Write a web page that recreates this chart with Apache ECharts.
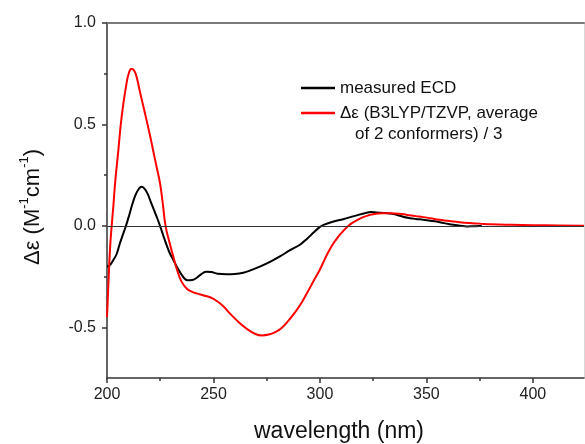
<!DOCTYPE html>
<html>
<head>
<meta charset="utf-8">
<script src="https://cdn.jsdelivr.net/npm/echarts@6/dist/echarts.min.js"></script>
<style>
  html, body { margin: 0; padding: 0; background: #fff; }
  #chart { width: 585px; height: 444px; }
</style>
</head>
<body>
<div id="chart"></div>
<script>
// Measured ECD spectrum (wavelength in nm, Δε in M^-1 cm^-1)
const measuredNm = [200, 201, 202, 203, 204.5, 206, 207.5, 208.9, 210.5, 212, 213.5, 215, 216.2, 217.5, 219, 220.5, 222, 223.5, 224.9, 226.5, 228, 229.5, 231.1, 233, 235, 237.7, 240, 242, 244, 246.5, 249, 252, 256, 260, 264, 268, 272, 277, 281.2, 286, 290.6, 294, 297, 300, 302, 306, 310.9, 316, 321.9, 324, 326.6, 330, 333, 336, 339, 342.3, 345, 348.5, 352, 356.3, 360, 362.6, 366, 369, 372, 376];
const measuredDe = [-0.2, -0.197, -0.185, -0.168, -0.14, -0.088, -0.042, 0.0, 0.055, 0.11, 0.155, 0.183, 0.193, 0.185, 0.16, 0.12, 0.08, 0.04, 0.0, -0.05, -0.095, -0.135, -0.167, -0.205, -0.24, -0.268, -0.267, -0.257, -0.24, -0.226, -0.228, -0.236, -0.238, -0.237, -0.231, -0.217, -0.2, -0.175, -0.151, -0.12, -0.093, -0.063, -0.033, -0.005, 0.006, 0.02, 0.033, 0.048, 0.065, 0.068, 0.066, 0.064, 0.061, 0.055, 0.045, 0.038, 0.034, 0.03, 0.025, 0.018, 0.01, 0.005, 0.0, -0.003, -0.002, 0.0];

// Calculated spectrum, B3LYP/TZVP, average of 2 conformers, scaled by 1/3
const calcNm = [200, 200.8, 201.5, 202.2, 203, 203.8, 205.3, 206.9, 208.9, 210.3, 211.6, 212.8, 214, 215.5, 217, 218.6, 220.2, 221.7, 223.3, 224.9, 226.2, 227.5, 229.3, 231.1, 233, 235, 237.5, 240, 242, 245, 248.4, 251.5, 254.5, 258, 262.4, 266, 269.5, 272.6, 276, 279, 282, 285, 288, 291, 294, 297, 300, 302, 304, 306, 308, 310, 313, 316, 319, 322, 325, 329, 333, 337, 341, 345, 348.5, 352, 356, 360, 364, 370, 375, 380, 390, 400, 412, 424];
const calcDe = [-0.45, -0.25, -0.1, 0.0, 0.1, 0.21, 0.37, 0.54, 0.685, 0.755, 0.775, 0.765, 0.73, 0.66, 0.592, 0.52, 0.445, 0.37, 0.29, 0.21, 0.11, 0.0, -0.08, -0.15, -0.22, -0.275, -0.31, -0.325, -0.333, -0.342, -0.352, -0.37, -0.395, -0.435, -0.48, -0.51, -0.532, -0.54, -0.536, -0.524, -0.503, -0.47, -0.43, -0.385, -0.33, -0.272, -0.215, -0.17, -0.128, -0.092, -0.062, -0.036, -0.003, 0.02, 0.037, 0.049, 0.057, 0.062, 0.062, 0.06, 0.054, 0.048, 0.043, 0.037, 0.03, 0.025, 0.02, 0.014, 0.011, 0.008, 0.005, 0.003, 0.002, 0.001];

// Axis ticks
const xMajorTicks = [200, 250, 300, 350, 400];
const xMinorTicks = [225, 275, 325, 375];
const yMajorTicks = [-0.5, 0.0, 0.5, 1.0];
const yMinorTicks = [-0.25, 0.25, 0.75];

const seriesNames = ['measured ECD', 'Δε (B3LYP/TZVP, average of 2 conformers) / 3'];

const FONT = '"Liberation Sans", Arial, Helvetica, sans-serif';
const AXIS_COLOR = '#333';

const zip = (xs, ys) => xs.map((x, i) => [x, ys[i]]);

const chart = echarts.init(document.getElementById('chart'), null, { renderer: 'canvas' });

const xRange = { min: 200, max: 424 };
const yRange = { min: -0.75, max: 1.0 };
const plainAxisLine = (color, width) => ({ show: true, onZero: false, lineStyle: { color, width } });

chart.setOption({
  animation: false,
  backgroundColor: '#fff',
  grid: { left: 107, right: 1, top: 23, bottom: 66, containLabel: false },
  xAxis: [
    {
      type: 'value', position: 'bottom', ...xRange, interval: 25,
      axisLine: plainAxisLine(AXIS_COLOR, 1.5),
      axisTick: { show: true, inside: false, length: 5, customValues: xMajorTicks, lineStyle: { color: AXIS_COLOR, width: 1.5 } },
      axisLabel: { show: true, customValues: xMajorTicks, margin: 9, fontSize: 16, color: '#222', fontFamily: FONT },
      splitLine: { show: false }
    },
    {
      type: 'value', position: 'bottom', ...xRange, interval: 25,
      axisLine: { show: false, onZero: false },
      axisTick: { show: true, inside: false, length: 3, customValues: xMinorTicks, lineStyle: { color: AXIS_COLOR, width: 1.5 } },
      axisLabel: { show: false },
      splitLine: { show: false }
    },
    {
      type: 'value', position: 'top', ...xRange, interval: 25,
      axisLine: plainAxisLine('#7a7a7a', 2),
      axisTick: { show: false }, axisLabel: { show: false }, splitLine: { show: false }
    }
  ],
  yAxis: [
    {
      type: 'value', position: 'left', ...yRange, interval: 0.25,
      axisLine: plainAxisLine(AXIS_COLOR, 1.5),
      axisTick: { show: true, inside: false, length: 5, customValues: yMajorTicks, lineStyle: { color: AXIS_COLOR, width: 1.5 } },
      axisLabel: { show: true, customValues: yMajorTicks, margin: 11, fontSize: 16, color: '#222', fontFamily: FONT,
                   formatter: v => v.toFixed(1) },
      splitLine: { show: false }
    },
    {
      type: 'value', position: 'left', ...yRange, interval: 0.25,
      axisLine: { show: false, onZero: false },
      axisTick: { show: true, inside: false, length: 3, customValues: yMinorTicks, lineStyle: { color: AXIS_COLOR, width: 1.5 } },
      axisLabel: { show: false },
      splitLine: { show: false }
    },
    {
      type: 'value', position: 'right', ...yRange, interval: 0.25,
      axisLine: plainAxisLine('#d8d8d8', 1),
      axisTick: { show: false }, axisLabel: { show: false }, splitLine: { show: false }
    }
  ],
  legend: {
    orient: 'vertical',
    left: 301, top: 78, padding: 0,
    itemWidth: 34, itemHeight: 2.5, itemGap: 5,
    icon: 'rect',
    selectedMode: false,
    data: [
      { name: seriesNames[0], itemStyle: { color: '#000' } },
      { name: seriesNames[1], itemStyle: { color: '#ff0000' } }
    ],
    formatter: name => name === seriesNames[1] ? 'Δε (B3LYP/TZVP, average' : name,
    textStyle: { fontSize: 17, fontFamily: FONT, color: '#111', lineHeight: 20 }
  },
  graphic: [
    {
      type: 'text', left: 355, top: 126, silent: true,
      style: { text: 'of 2 conformers) / 3', font: '17px ' + FONT, fill: '#111' }
    },
    {
      type: 'text', x: 339, y: 432, silent: true,
      style: { text: 'wavelength (nm)', font: '23px ' + FONT, fill: '#111', align: 'center', verticalAlign: 'middle' }
    },
    {
      type: 'text', x: 31, y: 207, rotation: Math.PI / 2, silent: true,
      style: {
        text: '{b|Δε (M}{s|-1}{b|cm}{s|-1}{b|)}',
        align: 'center', verticalAlign: 'middle',
        rich: {
          b: { fontSize: 22, fontFamily: FONT, fill: '#111', color: '#111', verticalAlign: 'bottom', lineHeight: 26 },
          s: { fontSize: 13, fontFamily: FONT, fill: '#111', color: '#111', verticalAlign: 'top', lineHeight: 26, padding: [0, 0, 10, 0] }
        }
      }
    }
  ],
  series: [
    {
      name: seriesNames[0], type: 'line', xAxisIndex: 0, yAxisIndex: 0,
      data: zip(measuredNm, measuredDe),
      symbol: 'none', smooth: 0.4, clip: true,
      lineStyle: { color: '#000', width: 2 },
      itemStyle: { color: '#000' },
      z: 3,
      markLine: {
        silent: true, symbol: 'none', label: { show: false },
        lineStyle: { color: '#333', width: 1, type: 'solid' },
        data: [{ yAxis: 0 }]
      }
    },
    {
      name: seriesNames[1], type: 'line', xAxisIndex: 0, yAxisIndex: 0,
      data: zip(calcNm, calcDe),
      symbol: 'none', smooth: 0.5, clip: true,
      lineStyle: { color: '#ff0000', width: 2 },
      itemStyle: { color: '#ff0000' },
      z: 4
    }
  ]
});
</script>
</body>
</html>
